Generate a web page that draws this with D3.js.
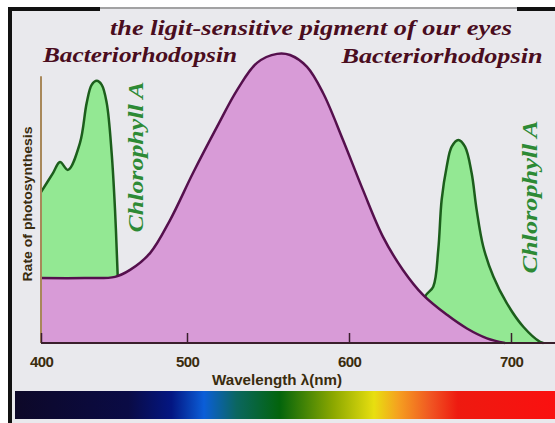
<!DOCTYPE html>
<html>
<head>
<meta charset="utf-8">
<script src="https://cdn.jsdelivr.net/npm/d3@7"></script>
<style>
  body { margin: 0; background: #fff; }
  svg { display: block; }
</style>
</head>
<body>
<div id="root"></div>
<script>
const width = 555
const height = 423

// wavelength (nm) and relative response (0-100)
const eyePigment = [
  [400, 22.4], [430, 22.4], [450.7, 22.8], [461, 25.2], [474.7, 31], [488.4, 42.4],
  [503.7, 58.6], [518.5, 74.5], [530.9, 87.2], [543.2, 96.6], [555.6, 99.7],
  [563.6, 99.3], [574.1, 95.2], [584, 86.2], [596.3, 70], [608.6, 52.8],
  [621, 36.6], [633.3, 25.2], [645.7, 16.6], [660.5, 9.7], [672.8, 5],
  [685.2, 1.6], [696.3, 0]
]
const chlorBlue = [
  [400, 52], [408.2, 58.6], [413, 62.4], [418.5, 59.7], [426.7, 69], [431.3, 82.8],
  [434.7, 89], [438.2, 90.4], [441.6, 89], [445, 82.8], [448.4, 65.5],
  [450.7, 45.9], [452.3, 26.2], [453.5, 10], [454.5, 0]
]
const chlorRed = [
  [642, 0], [646.9, 16], [652, 19.4], [655.1, 32.2], [657.2, 49.4], [660.3, 60.8],
  [663.4, 67.7], [667.5, 70], [671.6, 67.7], [675.7, 58.6], [678.8, 45.9],
  [682.9, 33.2], [689.1, 22.9], [697.3, 13.8], [707.6, 5.6], [717.9, 0.4], [720, 0]
]
const tickNm = [400, 500, 600, 700]

const title = 'the ligit-sensitive pigment of our eyes'
const pigmentName = 'Bacteriorhodopsin'
const chlorName = 'Chlorophyll A'
const xLabel = 'Wavelength \u03bb(nm)'
const yLabel = 'Rate of photosynthesis'

const spectrum = [
  ['0%', '#0d0828'], ['21%', '#0a0b45'], ['29%', '#031682'], ['35%', '#0b5ed8'],
  ['41%', '#0b6660'], ['49%', '#03640c'], ['59%', '#8ca800'], ['66.5%', '#e8df10'],
  ['71%', '#f5a020'], ['77%', '#f05522'], ['82%', '#ee1a10'], ['100%', '#fa1010']
]

const svg = d3.select('#root').append('svg')
  .attr('width', width)
  .attr('height', height)

// the 400 label sits at the axis corner, so the first 100 nm are squeezed
const x = d3.scaleLinear()
  .domain([400, 500, 700])
  .range([41, 187, 511])

const y = d3.scaleLinear()
  .domain([0, 100])
  .range([343, 53])

// frame
svg.append('rect')
  .attr('x', 8).attr('y', 7)
  .attr('width', width - 8).attr('height', height - 7)
  .style('fill', '#e9e9ed')
svg.append('line')
  .attr('x1', 8).attr('x2', width).attr('y1', 8).attr('y2', 8)
  .style('stroke', '#8a8a8a').style('stroke-width', 1.5)
svg.append('line')
  .attr('x1', 8).attr('x2', 100).attr('y1', 9).attr('y2', 9)
  .style('stroke', '#111').style('stroke-width', 4)
svg.append('line')
  .attr('x1', 517).attr('x2', width).attr('y1', 9).attr('y2', 9)
  .style('stroke', '#111').style('stroke-width', 4)
svg.append('line')
  .attr('x1', 10).attr('x2', 10).attr('y1', 7).attr('y2', height)
  .style('stroke', '#111').style('stroke-width', 4)

const curve = d3.curveCatmullRom.alpha(0.5)

const area = d3.area()
  .x(d => x(d[0]))
  .y0(y(0))
  .y1(d => y(d[1]))
  .curve(curve)

const line = d3.line()
  .x(d => x(d[0]))
  .y(d => y(d[1]))
  .curve(curve)

// chlorophyll first, the pigment is painted over it
;[chlorBlue, chlorRed].forEach(data => {
  svg.append('path')
    .attr('d', area(data))
    .style('fill', '#93e893')
  svg.append('path')
    .attr('d', line(data))
    .style('fill', 'none')
    .style('stroke', '#1c5e1c')
    .style('stroke-width', 2.5)
})

svg.append('path')
  .attr('d', area(eyePigment))
  .style('fill', '#d89bd7')
svg.append('path')
  .attr('d', line(eyePigment))
  .style('fill', 'none')
  .style('stroke', '#55104d')
  .style('stroke-width', 2.5)

// axes
svg.append('line')
  .attr('x1', x(400)).attr('x2', x(400))
  .attr('y1', y(0)).attr('y2', y(92))
  .style('stroke', '#a8885a').style('stroke-width', 2)

const xAxis = svg.append('g')
  .attr('transform', `translate(0,${y(0)})`)
  .call(d3.axisBottom(x).tickValues(tickNm).tickSizeInner(-10).tickSizeOuter(0).tickPadding(13))
xAxis.select('.domain').remove()
xAxis.selectAll('.tick line')
  .style('stroke', '#3a1f2c').style('stroke-width', 1.5)
xAxis.selectAll('.tick text')
  .style('font-family', '"Liberation Sans", Arial, sans-serif')
  .style('font-weight', 'bold')
  .style('font-size', '15px')
  .style('letter-spacing', '-0.6px')
  .style('fill', '#3a2c0e')

svg.append('line')
  .attr('x1', x(400)).attr('x2', width)
  .attr('y1', y(0)).attr('y2', y(0))
  .style('stroke', '#3a1f2c').style('stroke-width', 2)

svg.append('text')
  .attr('x', 277).attr('y', 385)
  .attr('text-anchor', 'middle')
  .attr('textLength', 130).attr('lengthAdjust', 'spacingAndGlyphs')
  .style('font-family', '"Liberation Sans", Arial, sans-serif')
  .style('font-weight', 'bold')
  .style('font-size', '14px')
  .style('fill', '#3a2c0e')
  .text(xLabel)

svg.append('text')
  .attr('transform', 'translate(32,204) rotate(-90)')
  .attr('text-anchor', 'middle')
  .attr('textLength', 155).attr('lengthAdjust', 'spacingAndGlyphs')
  .style('font-family', '"Liberation Sans", Arial, sans-serif')
  .style('font-weight', 'bold')
  .style('font-size', '12.5px')
  .style('fill', '#3a2c0e')
  .text(yLabel)

// spectrum strip
const grad = svg.append('defs').append('linearGradient')
  .attr('id', 'spectrum')
grad.selectAll('stop')
  .data(spectrum)
  .enter().append('stop')
  .attr('offset', d => d[0])
  .attr('stop-color', d => d[1])

svg.append('rect')
  .attr('x', 15).attr('y', 391)
  .attr('width', width - 15).attr('height', 28)
  .style('fill', 'url(#spectrum)')

// labels
const serif = '"Liberation Serif", "Times New Roman", serif'

function label(txt, tx, ty, len, size, color, rot) {
  svg.append('text')
    .attr('transform', `translate(${tx},${ty})` + (rot ? ' rotate(-90)' : ''))
    .attr('text-anchor', 'middle')
    .attr('textLength', len).attr('lengthAdjust', 'spacingAndGlyphs')
    .style('font-family', serif)
    .style('font-weight', 'bold')
    .style('font-style', 'italic')
    .style('font-size', size + 'px')
    .style('fill', color)
    .text(txt)
}

label(title, 311, 35, 402, 20, '#4a0d1e', false)
label(pigmentName, 140, 62, 194, 22, '#4a0d1e', false)
label(pigmentName, 442, 63, 201, 22, '#4a0d1e', false)
label(chlorName, 143, 157, 151, 20, '#2d8a35', true)
label(chlorName, 537, 197, 153, 20, '#2d8a35', true)
</script>
</body>
</html>
